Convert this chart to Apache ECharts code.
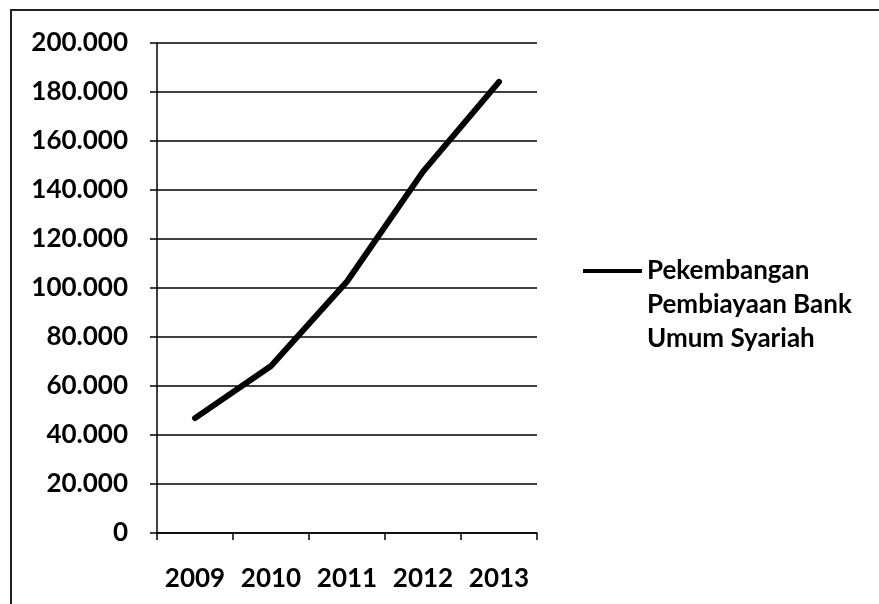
<!DOCTYPE html>
<html>
<head>
<meta charset="utf-8">
<script src="https://cdn.jsdelivr.net/npm/echarts@6/dist/echarts.min.js"></script>
<style>
  html, body { margin: 0; padding: 0; background: #fff; }
  #chart { width: 879px; height: 604px; }
</style>
</head>
<body>
<div id="chart"></div>
<script>
// Annual financing of Islamic commercial banks (Rp billion)
const years = ['2009', '2010', '2011', '2012', '2013'];
const financing = [46886, 68181, 102655, 147505, 184122];
const seriesName = 'Pekembangan\nPembiayaan Bank\nUmum Syariah';
const yMin = 0, yMax = 200000, yStep = 20000;

// Thousands grouped with dots, e.g. 200.000
function dotted(v) {
  return String(Math.round(v)).replace(/\B(?=(\d{3})+(?!\d))/g, '.');
}

const font = 'Lato, "Open Sans", "DejaVu Sans", sans-serif';
const chart = echarts.init(document.getElementById('chart'), null, { renderer: 'canvas' });

chart.setOption({
  backgroundColor: '#ffffff',
  animation: false,
  grid: { left: 157, right: 342, top: 43, bottom: 71, containLabel: false },
  xAxis: {
    type: 'category',
    data: years,
    boundaryGap: true,
    axisLine: { show: true, lineStyle: { color: '#000', width: 1.5 } },
    axisTick: { show: true, length: 7, alignWithLabel: false, lineStyle: { color: '#000', width: 1.5 } },
    axisLabel: {
      interval: 0,
      hideOverlap: false,
      color: '#000', fontFamily: font, fontWeight: 'bold', fontSize: 26, margin: 33
    },
    splitLine: { show: false }
  },
  yAxis: {
    type: 'value',
    min: yMin,
    max: yMax,
    interval: yStep,
    axisLine: { show: true, lineStyle: { color: '#000', width: 1.5 } },
    axisTick: { show: true, length: 7, lineStyle: { color: '#000', width: 1.5 } },
    axisLabel: { color: '#000', fontFamily: font, fontWeight: 'bold', fontSize: 26, margin: 29, formatter: dotted },
    splitLine: { show: true, lineStyle: { color: '#000', width: 1.5 } }
  },
  legend: {
    show: true,
    left: 583,
    top: 186,
    padding: 0,
    orient: 'vertical',
    icon: 'rect',
    itemWidth: 59,
    itemHeight: 4,
    data: [{ name: seriesName, itemStyle: { color: '#000' } }],
    // two leading blank lines put the first line of the name level with the key line
    formatter: function (name) { return '\n\n' + name; },
    textStyle: {
      color: '#000',
      fontFamily: font,
      fontWeight: 'bold',
      fontSize: 26,
      lineHeight: 34
    }
  },
  graphic: [{
    type: 'polyline',
    silent: true,
    shape: { points: [[11, 604], [11, 10], [879, 10]] },
    style: { stroke: '#222', lineWidth: 2, fill: null }
  }],
  series: [{
    name: seriesName,
    type: 'line',
    data: financing,
    symbol: 'none',
    lineStyle: { color: '#000', width: 6, cap: 'round', join: 'round' },
    itemStyle: { color: '#000' }
  }]
});
</script>
</body>
</html>
